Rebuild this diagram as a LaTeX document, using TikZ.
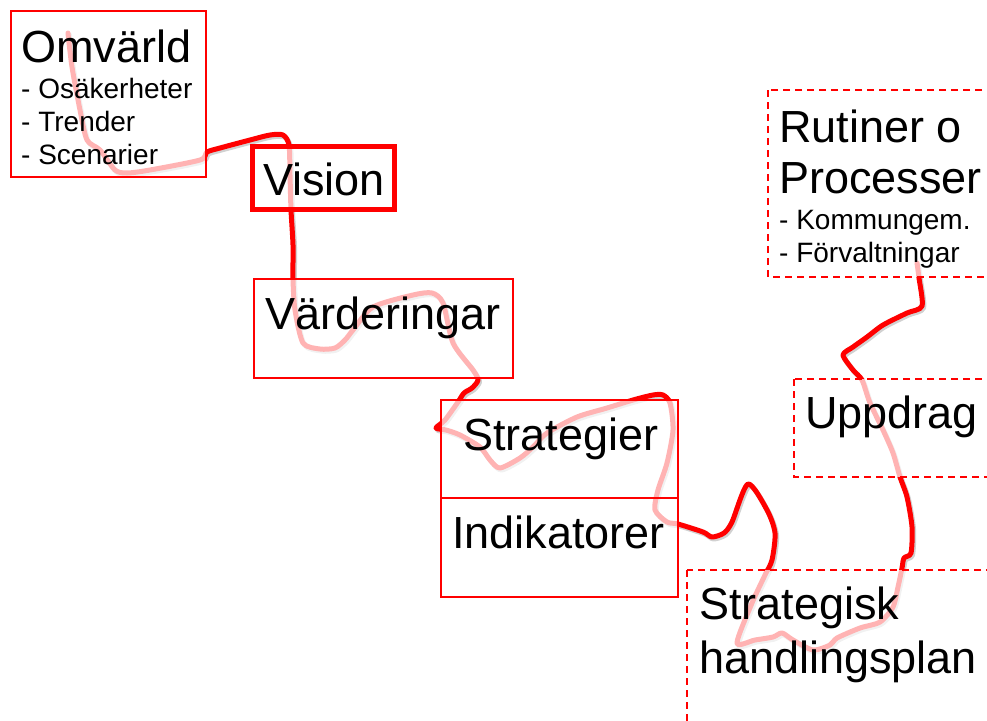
\documentclass[tikz,border=0pt]{standalone}
\usepackage{fontspec}
\setmainfont{Liberation Sans}
\tikzset{
  frame/.style={draw=red, line width=1.6pt, fill=white, fill opacity=0.7},
  thickframe/.style={frame, line width=5pt},
  dashframe/.style={frame, dash pattern=on 7pt off 5pt},
  bigtxt/.style={anchor=base west, inner sep=0pt, font=\fontsize{45}{50}\selectfont},
  smalltxt/.style={anchor=base west, inner sep=0pt, font=\fontsize{28}{33}\selectfont},
  scribble/.style={red, line width=5pt, line cap=round, line join=round},
}
\begin{document}
\begin{tikzpicture}[x=1pt, y=-1pt]
\useasboundingbox (0,0) rectangle (987,720);
\clip (0,0) rectangle (987,720);
% freehand line, shadow first
\draw[scribble, draw=black, opacity=0.18, shift={(1.5,2)}] plot[smooth, tension=0.45] coordinates {
  (68,33) (72,67) (80,110) (87,140) (100,150) (115,170) (127,173) (150,170) (200,160)
  (207,152) (220,148) (250,140) (270,135) (283,135) (289,145) (290,175) (291,210) (293,245)
  (293,279) (295,310) (303,343) (320,349) (335,348) (345,340) (353,330) (373,307) (413,295)
  (432,293) (443,303) (453,343) (473,370) (478,380) (472,388) (464,393) (458,402) (445,420)
  (436,428) (446,430) (460,435) (480,447) (490,460) (500,468) (520,458) (533,447) (547,433)
  (577,417) (607,408) (633,400) (653,395) (663,395) (670,403) (673,430) (667,463) (658,490)
  (655,510) (667,522) (678,524) (703,532) (712,537) (724,533) (732,522) (748,484) (767,510)
  (775,533) (772,560) (765,575) (752,603) (737,643) (755,640) (773,637) (782,633) (793,640)
  (813,650) (830,645) (837,638) (860,628) (880,622) (893,607) (898,587) (902,568) (904,558)
  (911,553) (912,527) (907,497) (900,477) (893,453) (883,430) (870,403) (862,380) (853,370)
  (843,355) (853,347) (867,337) (883,325) (907,313) (922,306) (919,278) (917,263)};
\draw[scribble] plot[smooth, tension=0.45] coordinates {
  (68,33) (72,67) (80,110) (87,140) (100,150) (115,170) (127,173) (150,170) (200,160)
  (207,152) (220,148) (250,140) (270,135) (283,135) (289,145) (290,175) (291,210) (293,245)
  (293,279) (295,310) (303,343) (320,349) (335,348) (345,340) (353,330) (373,307) (413,295)
  (432,293) (443,303) (453,343) (473,370) (478,380) (472,388) (464,393) (458,402) (445,420)
  (436,428) (446,430) (460,435) (480,447) (490,460) (500,468) (520,458) (533,447) (547,433)
  (577,417) (607,408) (633,400) (653,395) (663,395) (670,403) (673,430) (667,463) (658,490)
  (655,510) (667,522) (678,524) (703,532) (712,537) (724,533) (732,522) (748,484) (767,510)
  (775,533) (772,560) (765,575) (752,603) (737,643) (755,640) (773,637) (782,633) (793,640)
  (813,650) (830,645) (837,638) (860,628) (880,622) (893,607) (898,587) (902,568) (904,558)
  (911,553) (912,527) (907,497) (900,477) (893,453) (883,430) (870,403) (862,380) (853,370)
  (843,355) (853,347) (867,337) (883,325) (907,313) (922,306) (919,278) (917,263)};
% boxes
\draw[frame] (11,11) rectangle (206,177);
\draw[thickframe] (252,146) rectangle (394,209);
\draw[frame] (254,279) rectangle (513,378);
\draw[frame] (441,400) rectangle (678,597);
\draw[red, line width=1.6pt] (441,498) -- (678,498);
\draw[dashframe] (768,90) rectangle (1000,277);
\draw[dashframe] (794,379) rectangle (1000,477);
\draw[dashframe] (687,570) rectangle (1000,740);
% texts
\node[bigtxt] (omv) at (21,62) {Omvärld};
\node[smalltxt] (osa) at (21,98) {- Osäkerheter};
\node[smalltxt] (tre) at (21,131) {- Trender};
\node[smalltxt] (sce) at (21,164) {- Scenarier};
\node[bigtxt] (vis) at (263,195) {Vision};
\node[bigtxt] (var) at (265,329) {Värderingar};
\node[bigtxt] (str) at (463,450) {Strategier};
\node[bigtxt] (ind) at (452,548) {Indikatorer};
\node[bigtxt] (rut) at (779,142) {Rutiner o};
\node[bigtxt] (pro) at (779,193) {Processer};
\node[smalltxt] (kom) at (779,229) {- Kommungem.};
\node[smalltxt] (for) at (779,262) {- Förvaltningar};
\node[bigtxt] (upp) at (805,428) {Uppdrag};
\node[bigtxt] (sth) at (699,619) {Strategisk};
\node[bigtxt] (hpl) at (699,673) {handlingsplan};
\end{tikzpicture}
\end{document}
